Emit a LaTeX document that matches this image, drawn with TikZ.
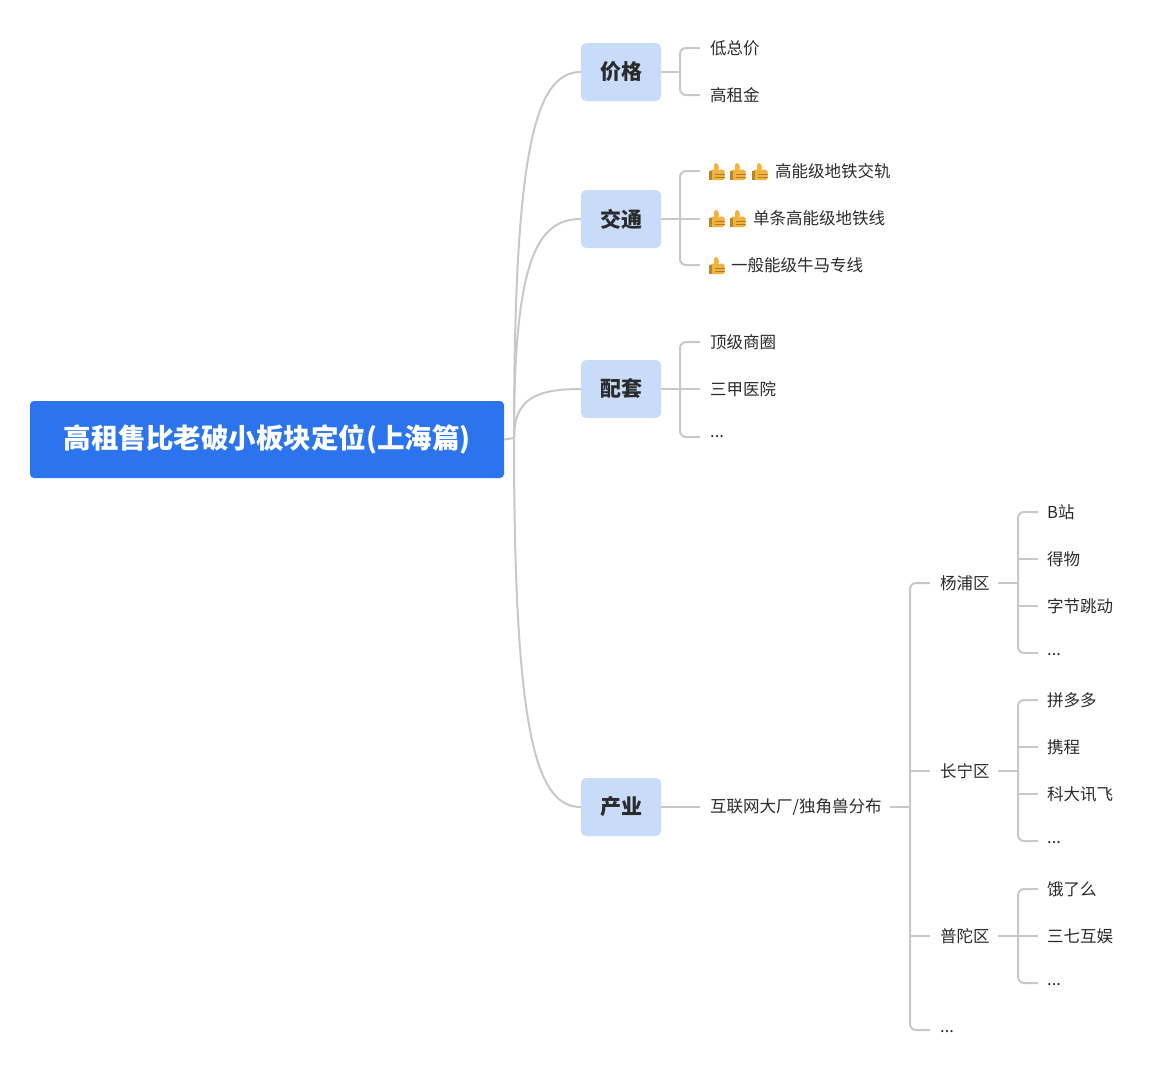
\documentclass[tikz,border=0pt]{standalone}
\usepackage{fontspec}
\setmainfont{Noto Sans CJK SC}
\usetikzlibrary{calc}
\definecolor{rootblue}{HTML}{2C74EE}
\definecolor{catfill}{HTML}{C8DCFA}
\definecolor{linegray}{HTML}{C8C8C8}
\definecolor{txt}{HTML}{2B2B2B}
\definecolor{thumb}{HTML}{F2B33D}
\begin{document}
\begin{tikzpicture}[x=1pt,y=-1pt,
  conn/.style={draw=linegray,line width=2pt,rounded corners=6pt},
  root/.style={fill=rootblue,rounded corners=4pt,minimum width=474pt,minimum height=77pt,text=white,font=\fontsize{27.5}{32}\selectfont\bfseries,inner sep=0pt},
  cat/.style={fill=catfill,rounded corners=5pt,minimum width=80pt,minimum height=58pt,text=txt,font=\fontsize{21}{24}\selectfont\bfseries,inner sep=0pt},
  leaf/.style={anchor=west,text=txt,font=\fontsize{16.5}{19}\selectfont,inner sep=0pt},
  thumbup/.pic={
    \begin{scope}[scale=1.3]
    \fill[thumb,rounded corners=1.5pt] (-6,-1) rectangle (5,7);
    \fill[thumb,rounded corners=1.5pt] (-3,0) -- (-3,-6) -- (0,-6) -- (1,-1) -- cycle;
    \fill[thumb!75!black] (-7,0) rectangle (-5,7);
    \draw[thumb!70!black,line width=0.5pt] (-2,2.5)--(5,2.5) (-2,4.7)--(5,4.7);
    \end{scope}
  }]
\useasboundingbox (0,0) rectangle (1153,1080);
\fill[white] (0,0) rectangle (1153,1080);

\node[root] (root) at (267,439.5) {高租售比老破小板块定位(上海篇)};
\coordinate (rj) at (514,438);
\node[cat] (c1) at (621,72) {价格};
\node[cat] (c2) at (621,219) {交通};
\node[cat] (c3) at (621,389) {配套};
\node[cat] (c4) at (621,807) {产业};
\draw[conn] (root.east) -- (rj);
\foreach \c in {c1,c2,c3,c4}{
  \draw[draw=linegray,line width=2pt] (rj) .. controls ($(rj)!0.8!(rj|-\c.west)$) and ($(rj|-\c.west)+(22,0)$) .. (\c.west);
}

% 价格
\node[leaf] (a1) at (710,48) {低总价};
\node[leaf] (a2) at (710,95) {高租金};
\draw[conn] (c1.east) -- (680,72);
\draw[conn] (700,48) -- (680,48) -- (680,95) -- (700,95);

% 交通
\pic at (718,171) {thumbup}; \pic at (739,171) {thumbup}; \pic at (761,171) {thumbup};
\node[leaf] (b1) at (775,171) {高能级地铁交轨};
\pic at (718,218) {thumbup}; \pic at (739,218) {thumbup};
\node[leaf] (b2) at (753,218) {单条高能级地铁线};
\pic at (718,265) {thumbup};
\node[leaf] (b3) at (731,265) {一般能级牛马专线};
\draw[conn] (c2.east) -- (700,219);
\draw[conn] (700,171) -- (680,171) -- (680,265) -- (700,265);

% 配套
\node[leaf] (d1) at (710,342) {顶级商圈};
\node[leaf] (d2) at (710,389) {三甲医院};
\node[leaf] (d3) at (710,437) {...};
\draw[conn] (c3.east) -- (700,389);
\draw[conn] (700,342) -- (680,342) -- (680,437) -- (700,437);

% 产业
\node[leaf] (e1) at (710,807) {互联网大厂/独角兽分布};
\draw[conn] (c4.east) -- ($(e1.west)+(-10,0)$);
\draw[conn] ($(e1.east)+(8,0)$) -- (910,807);
\node[leaf] (f1) at (940,583) {杨浦区};
\node[leaf] (f2) at (940,771) {长宁区};
\node[leaf] (f3) at (940,936) {普陀区};
\node[leaf] (f4) at (940,1032) {...};
\draw[conn] (930,583) -- (910,583) -- (910,1030) -- (930,1030);
\draw[conn] (910,771) -- (930,771);
\draw[conn] (910,936) -- (930,936);

% 杨浦
\node[leaf] at (1047,512) {B站};
\node[leaf] at (1047,559) {得物};
\node[leaf] at (1047,606) {字节跳动};
\node[leaf] at (1047,655) {...};
\draw[conn] ($(f1.east)+(8,0)$) -- (1018,583);
\draw[conn] (1038,512) -- (1018,512) -- (1018,653) -- (1038,653);
\draw[conn] (1018,559) -- (1038,559);
\draw[conn] (1018,606) -- (1038,606);
% 长宁
\node[leaf] at (1047,700) {拼多多};
\node[leaf] at (1047,747) {携程};
\node[leaf] at (1047,794) {科大讯飞};
\node[leaf] at (1047,843) {...};
\draw[conn] ($(f2.east)+(8,0)$) -- (1018,771);
\draw[conn] (1038,700) -- (1018,700) -- (1018,841) -- (1038,841);
\draw[conn] (1018,747) -- (1038,747);
\draw[conn] (1018,794) -- (1038,794);
% 普陀
\node[leaf] at (1047,889) {饿了么};
\node[leaf] at (1047,936) {三七互娱};
\node[leaf] at (1047,985) {...};
\draw[conn] ($(f3.east)+(8,0)$) -- (1038,936);
\draw[conn] (1038,889) -- (1018,889) -- (1018,983) -- (1038,983);
\end{tikzpicture}
\end{document}
